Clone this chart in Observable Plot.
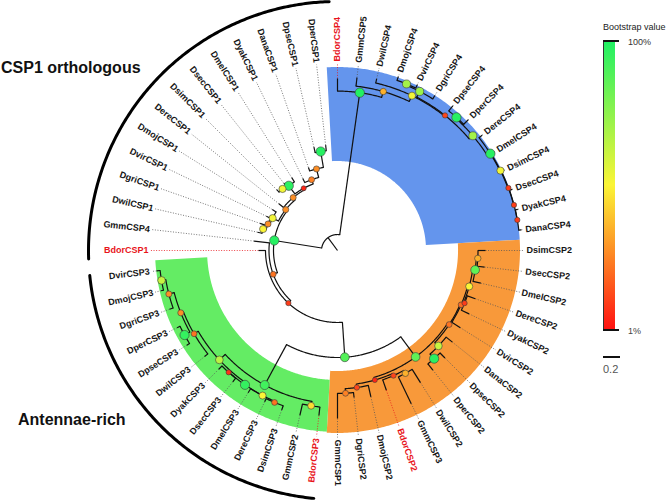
<!DOCTYPE html>
<html><head><meta charset="utf-8">
<script src="https://cdn.jsdelivr.net/npm/d3@7"></script>
<script src="https://cdn.jsdelivr.net/npm/@observablehq/plot@0.6"></script>
<style>
body{margin:0;background:#fff;font-family:"Liberation Sans",Arial,sans-serif;}
#wrap{position:relative;width:667px;height:500px;overflow:hidden;}
.ann{position:absolute;white-space:nowrap;line-height:1;}
</style></head><body><div id="wrap"></div>
<script>
// ---------- DATA ----------
// leaves in clockwise order, starting at 3 o'clock (DsimCSP2)
const leafNames = [
 "DsimCSP2","DsecCSP2","DmelCSP2","DereCSP2","DyakCSP2","DvirCSP2","DanaCSP2","DpseCSP2","DperCSP2","DwilCSP2","GmmCSP3","BdorCSP2","DmojCSP2","DgriCSP2","GmmCSP1",
 "BdorCSP3","GmmCSP2","DsimCSP3","DereCSP3","DmelCSP3","DsecCSP3","DyakCSP3","DwilCSP3","DpseCSP3","DperCSP3","DgriCSP3","DmojCSP3","DvirCSP3",
 "BdorCSP1","GmmCSP4","DwilCSP1","DgriCSP1","DvirCSP1","DmojCSP1","DereCSP1","DsimCSP1","DsecCSP1","DmelCSP1","DyakCSP1","DanaCSP1","DpseCSP1","DperCSP1",
 "BdorCSP4","GmmCSP5","DwilCSP4","DmojCSP4","DvirCSP4","DgriCSP4","DpseCSP4","DperCSP4","DereCSP4","DmelCSP4","DsimCSP4","DsecCSP4","DyakCSP4","DanaCSP4"];
// distance of each leaf tip from the root (substitutions per site)
const leafDepth = [
 1.741,1.741,1.729,1.718,1.718,1.706,1.729,1.788,1.800,1.835,2.000,1.741,1.765,1.741,1.976,
 1.953,1.988,1.988,1.976,1.976,1.976,1.976,2.000,2.094,2.094,2.094,2.129,2.141,
 0.929,0.988,0.965,0.965,0.929,0.906,0.882,1.012,1.012,1.012,0.941,1.035,1.247,1.247,
 2.024,2.047,2.071,2.165,2.165,2.153,2.176,2.176,2.176,2.176,2.176,2.176,2.176,2.176];
const redLeaves = ["BdorCSP1","BdorCSP2","BdorCSP3","BdorCSP4"];

// internal nodes: id, children, depth from root, bootstrap (%)
const nodeIds = ["root","X","Y","Z","W","C1","G1","Ndv","Ndw","G2","Nred","Nmel","Nss","Nyak","Nana","Npp1",
 "B","B2","B3","B4","Bvir","Bmv","B5","Bpp","B6","B7","B8","B9","B10",
 "O","Oa","Oc","Oe","Of","Oh","Og","Od","Opp","Ob","Oi","Ok","Oj","Ol",
 "G","Ga","Gb","Gc","Ge","Gg","Gf","Gd","Gh","Gpp","Gi","Gmv"];
const nodeChildren = [
 ["X","B"],["Y","C1"],["Z","GmmCSP4"],["W","BdorCSP1"],["O","G"],["G1","G2"],["Ndv","DmojCSP1"],["Ndw","DvirCSP1"],["DwilCSP1","DgriCSP1"],
 ["DereCSP1","Nred"],["Nmel","Nyak"],["Nss","DmelCSP1"],["DsimCSP1","DsecCSP1"],["DyakCSP1","Nana"],["DanaCSP1","Npp1"],["DpseCSP1","DperCSP1"],
 ["BdorCSP4","B2"],["GmmCSP5","B3"],["DwilCSP4","B4"],["Bvir","B5"],["Bmv","DgriCSP4"],["DmojCSP4","DvirCSP4"],["Bpp","B6"],["DpseCSP4","DperCSP4"],
 ["DereCSP4","B7"],["DmelCSP4","B8"],["DsimCSP4","B9"],["DsecCSP4","B10"],["DyakCSP4","DanaCSP4"],
 ["Oa","Ob"],["Oc","Od"],["Oe","DvirCSP2"],["Of","Og"],["Oh","DmelCSP2"],["DsimCSP2","DsecCSP2"],["DereCSP2","DyakCSP2"],["DanaCSP2","Opp"],
 ["DpseCSP2","DperCSP2"],["Oi","Oj"],["Ok","BdorCSP2"],["DwilCSP2","GmmCSP3"],["DmojCSP2","Ol"],["DgriCSP2","GmmCSP1"],
 ["Ga","Gb"],["BdorCSP3","GmmCSP2"],["Gc","Gd"],["Ge","Gf"],["Gg","DmelCSP3"],["DsimCSP3","DereCSP3"],["DsecCSP3","DyakCSP3"],
 ["DwilCSP3","Gh"],["Gpp","Gi"],["DpseCSP3","DperCSP3"],["DgriCSP3","Gmv"],["DmojCSP3","DvirCSP3"]];
const nodeDepth = [0.188,0.753,0.806,0.847,1.259,0.776,0.853,0.875,0.911,0.812,0.833,0.953,0.971,0.887,0.991,1.181,
 1.875,1.946,2.021,2.031,2.106,2.121,2.087,2.100,2.129,2.135,2.141,2.144,2.146,
 1.553,1.576,1.588,1.606,1.635,1.653,1.618,1.634,1.706,1.586,1.612,1.651,1.628,1.682,
 1.800,1.853,1.894,1.919,1.921,1.935,1.922,1.951,1.984,2.056,2.049,2.100];
const nodeBootstrap = [null,98,22,10,88,28,52,28,50,28,5,97,52,25,28,98,
 99,35,52,12,72,70,70,98,98,52,10,10,10,
 85,22,20,50,85,35,10,62,97,5,12,35,12,25,
 92,45,65,95,50,22,8,22,28,95,28,62];

// highlighted clades (background bands)
const cladeNames  = ["CSP4","CSP2","CSP3"];
const cladeFirst  = ["BdorCSP4","DsimCSP2","BdorCSP3"];
const cladeLast   = ["DanaCSP4","GmmCSP1","DvirCSP3"];
const cladeInner  = [1.047,1.424,1.529];
const cladeOuter  = [2.153,2.153,2.141];
const cladeColors = ["#6495ed","#f8993a","#64ec64"];

// outer group brackets
const groupLabels = ["CSP1 orthologous","Antennae-rich"];
const groupFirst  = ["BdorCSP1","BdorCSP3"];
const groupLast   = ["DperCSP1","DvirCSP3"];

// bootstrap legend
const bootDomain = [1,50,100];
const bootColors = ["#ff1212","#fbf536","#1ef064"];
const bootTickLabels = ["100%","1%"];
const scaleBarValue = 0.2;

// ---------- LAYOUT ----------
const W = 667, H = 500, cx = 337, cy = 250, PX = 85; // px per substitution
const startAngle = 90;
const labelR = 189/PX, dotEnd = 187/PX, groupR = 249/PX;
const step = 360/leafNames.length;

const angle = new Map(), depth = new Map();
leafNames.forEach((n,i)=>{angle.set(n, startAngle + i*step); depth.set(n, leafDepth[i]);});
nodeIds.forEach((id,i)=>depth.set(id, nodeDepth[i]));
const kids = new Map(nodeIds.map((id,i)=>[id,nodeChildren[i]]));
function ang(id){
  if (angle.has(id)) return angle.get(id);
  const a = kids.get(id).map(ang);
  const v = (d3.min(a)+d3.max(a))/2; angle.set(id,v); return v;
}
nodeIds.forEach(ang);
const parent = new Map();
nodeIds.forEach((id,i)=>nodeChildren[i].forEach(c=>parent.set(c,id)));
const rad = t => t*Math.PI/180;
const P = (t,r) => [r*Math.sin(rad(t)), -r*Math.cos(rad(t))];
function arcPts(a0,a1,r,key){
  const n = Math.max(2, Math.ceil(Math.abs(a1-a0)/0.5)+1);
  return d3.range(n).map(k=>{const t=a0+(a1-a0)*k/(n-1); const [x,y]=P(t,r); return {x,y,key};});
}

// radial branches
const radials = [];
[...leafNames, ...nodeIds].forEach(id=>{
  const p = parent.get(id);
  const r0 = p ? depth.get(p) : 0, r1 = depth.get(id), t = angle.get(id);
  const [x1,y1] = P(t,r0), [x2,y2] = P(t,r1);
  radials.push({x1,y1,x2,y2});
});
// node arcs
const arcs = nodeIds.flatMap((id,i)=>{
  const a = nodeChildren[i].map(c=>angle.get(c));
  return arcPts(d3.min(a), d3.max(a), nodeDepth[i], id);
});
// node dots
const dots = nodeIds.map((id,i)=>{const [x,y]=P(angle.get(id),nodeDepth[i]); return {x,y,boot:nodeBootstrap[i]};})
  .filter(d=>d.boot!=null);
// dotted leaders and labels
const leaders = leafNames.map((n,i)=>{
  const t=angle.get(n); const [x1,y1]=P(t,leafDepth[i]); const [x2,y2]=P(t,dotEnd);
  return {x1,y1,x2,y2,red:redLeaves.includes(n)};
});
const labels = leafNames.map(n=>{
  const t=angle.get(n), a=((t%360)+360)%360; const [x,y]=P(t,labelR);
  const right = a <= 180;
  return {name:n,x,y,rot: right ? a-90 : a-270, right, red:redLeaves.includes(n)};
});
// bands
const bands = cladeNames.map((c,i)=>{
  const a0 = angle.get(cladeFirst[i]) - step/2, a1 = angle.get(cladeLast[i]) + step/2;
  const n = Math.ceil((a1-a0)/0.5)+1;
  return d3.range(n).map(k=>{const t=a0+(a1-a0)*k/(n-1); const [x1,y1]=P(t,cladeInner[i]); const [x2,y2]=P(t,cladeOuter[i]); return {x1,y1,x2,y2};});
});
// group brackets
const groupPad = [[-0.3,0.7],[-0.15,0.1]];
const groupArcs = groupLabels.flatMap((g,i)=>arcPts(angle.get(groupFirst[i])+groupPad[i][0]*step, angle.get(groupLast[i])+groupPad[i][1]*step, groupR, g));

const font = '"Liberation Sans", Arial, sans-serif';
const labelMarks = [];
for (const right of [true,false]) for (const red of [false,true]) {
  labelMarks.push(Plot.text(labels.filter(d=>d.right===right && d.red===red), {
    x:"x", y:"y", text:"name", rotate:"rot", textAnchor: right ? "start":"end",
    fontSize:9, fontWeight:"bold", fill: red ? "#e8141b" : "#161616"}));
}

const chart = Plot.plot({
  width: W, height: H, margin: 0,
  x: {domain: [-cx/PX, (W-cx)/PX], range: [0, W], axis: null},
  y: {domain: [-cy/PX, (H-cy)/PX], range: [0, H], axis: null},
  color: {type: "linear", domain: bootDomain, range: bootColors, interpolate: "rgb"},
  r: {type: "linear", domain: [0, 100], range: [2.4, 4.7]},
  style: {fontFamily: font, background: "transparent"},
  marks: [
    ...bands.map((b,i)=>Plot.area(b, {x1:"x1", y1:"y1", x2:"x2", y2:"y2", fill: cladeColors[i], curve: "linear"})),
    Plot.link(leaders.filter(d=>!d.red), {x1:"x1",y1:"y1",x2:"x2",y2:"y2", stroke:"#555", strokeWidth:0.8, strokeDasharray:"1 1.6"}),
    Plot.link(leaders.filter(d=>d.red), {x1:"x1",y1:"y1",x2:"x2",y2:"y2", stroke:"#e8141b", strokeWidth:0.8, strokeDasharray:"1 1.6"}),
    Plot.line(arcs, {x:"x", y:"y", z:"key", stroke:"#111", strokeWidth:1.2, curve:"linear"}),
    Plot.link(radials, {x1:"x1",y1:"y1",x2:"x2",y2:"y2", stroke:"#111", strokeWidth:1.2}),
    Plot.dot(dots, {x:"x", y:"y", r:"boot", fill:"boot", stroke:"#3a3a3a", strokeWidth:0.6}),
    ...labelMarks,
    Plot.line(groupArcs, {x:"x", y:"y", z:"key", stroke:"#000", strokeWidth:3, curve:"linear"})
  ]
});
const wrap = document.getElementById("wrap");
wrap.appendChild(chart);

// ---------- annotations / legend ----------
function ann(text, left, top, css){
  const d = document.createElement("div"); d.className="ann"; d.textContent=text;
  d.style.left=left+"px"; d.style.top=top+"px"; Object.assign(d.style, css||{}); wrap.appendChild(d); return d;
}
ann(groupLabels[0], 1, 60, {fontSize:"16px", fontWeight:"bold", color:"#111"});
ann(groupLabels[1], 18, 412, {fontSize:"16px", fontWeight:"bold", color:"#111"});
ann("Bootstrap value", 603, 23, {fontSize:"9px", color:"#222"});
const bar = document.createElement("div");
Object.assign(bar.style,{position:"absolute", left:"603px", top:"40px", width:"12px", height:"290px",
  background:`linear-gradient(to top, ${bootColors[0]} 0%, ${bootColors[1]} 50%, ${bootColors[2]} 100%)`,
  borderLeft:"1px solid #333", boxSizing:"border-box"});
wrap.appendChild(bar);
for (const top of [40, 329]) {
  const t = document.createElement("div");
  Object.assign(t.style,{position:"absolute", left:"603px", top: top+"px", width:"16px", height:"1.5px", background:"#111"});
  wrap.appendChild(t);
}
ann(bootTickLabels[0], 628, 38, {fontSize:"9px", color:"#333"});
ann(bootTickLabels[1], 628, 327, {fontSize:"9px", color:"#444"});
const sb = document.createElement("div");
Object.assign(sb.style,{position:"absolute", left:"603px", top:"356px", width:(scaleBarValue*PX)+"px", height:"2px", background:"#111"});
wrap.appendChild(sb);
ann(String(scaleBarValue), 603, 364, {fontSize:"11px", color:"#555"});
</script></body></html>
